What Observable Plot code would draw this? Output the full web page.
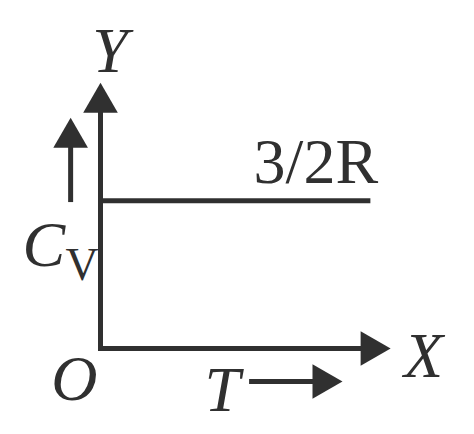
<!DOCTYPE html>
<html>
<head>
<meta charset="utf-8">
<script src="https://cdn.jsdelivr.net/npm/d3@7"></script>
<script src="https://cdn.jsdelivr.net/npm/@observablehq/plot@0.6"></script>
<style>
  html, body { margin: 0; padding: 0; background: #fff; }
  svg text { font-family: 'Liberation Serif', 'Times New Roman', Times, serif !important; }
</style>
</head>
<body>
<div id="chart"></div>
<script>
// Data (in chart units: origin at 0,0; axes run to 10)
const shafts = [
  {name: "xAxis",   x1: 0,     y1: 0,      x2: 8.97, y2: 0},
  {name: "yAxis",   x1: 0,     y1: 0,      x2: 0,    y2: 8.9},
  {name: "CvLevel", x1: 0,     y1: 5.58,   x2: 9.22, y2: 5.58},
  {name: "CvArrow", x1: -1.03, y1: 5.62,   x2: -1.03, y2: 7.58},
  {name: "TArrow",  x1: 5.21,  y1: -1.245, x2: 7.31, y2: -1.245}
];
const headsUp = [
  {x: 0,     y: 8.9},
  {x: -1.03, y: 7.58}
];
const headsRight = [
  {x: 8.97, y: 0},
  {x: 7.31, y: -1.245}
];
const italicLabels = [
  {text: "Y", x: 0.33,  y: 10.42, anchor: "middle"},
  {text: "X", x: 11.14, y: -1.06, anchor: "middle"},
  {text: "O", x: -0.9,  y: -1.96, anchor: "middle"},
  {text: "T", x: 4.2,   y: -2.34, anchor: "middle"},
  {text: "C", x: -2.69, y: 3.13,  anchor: "start"}
];
const romanLabels = [
  {text: "3/2R", x: 5.28,  y: 6.26, size: 64},
  {text: "V",    x: -1.21, y: 2.57, size: 46}
];

const ink = "#303030";
const font = "'Liberation Serif', 'Times New Roman', serif";

const chart = Plot.plot({
  width: 474,
  height: 434,
  margin: 0,
  style: {background: "#fff", overflow: "visible"},
  x: {domain: [0, 10], range: [100, 390], axis: null},
  y: {domain: [0, 10], range: [348, 83], axis: null},
  marks: [
    Plot.link(shafts, {x1: "x1", y1: "y1", x2: "x2", y2: "y2",
      stroke: ink, strokeWidth: 5, strokeLinecap: "square", strokeOpacity: 1}),
    Plot.dot(headsUp, {x: "x", y: "y", symbol: "triangle", r: 12.86,
      fill: ink, stroke: "none", dy: -10}),
    Plot.dot(headsRight, {x: "x", y: "y", symbol: "triangle", r: 12.86,
      fill: ink, stroke: "none", rotate: 90, dx: 10}),
    Plot.text(italicLabels, {x: "x", y: "y", text: "text", textAnchor: "middle",
      lineAnchor: "bottom", fontSize: 64, fontStyle: "italic", fontFamily: font, fill: ink,
      filter: d => d.anchor === "middle"}),
    Plot.text(italicLabels, {x: "x", y: "y", text: "text", textAnchor: "start",
      lineAnchor: "bottom", fontSize: 64, fontStyle: "italic", fontFamily: font, fill: ink,
      filter: d => d.anchor === "start"}),
    Plot.text(romanLabels, {x: "x", y: "y", text: "text", textAnchor: "start",
      lineAnchor: "bottom", fontSize: d => d.size, fontFamily: font, fill: ink})
  ]
});
document.getElementById("chart").appendChild(chart);
</script>
</body>
</html>
